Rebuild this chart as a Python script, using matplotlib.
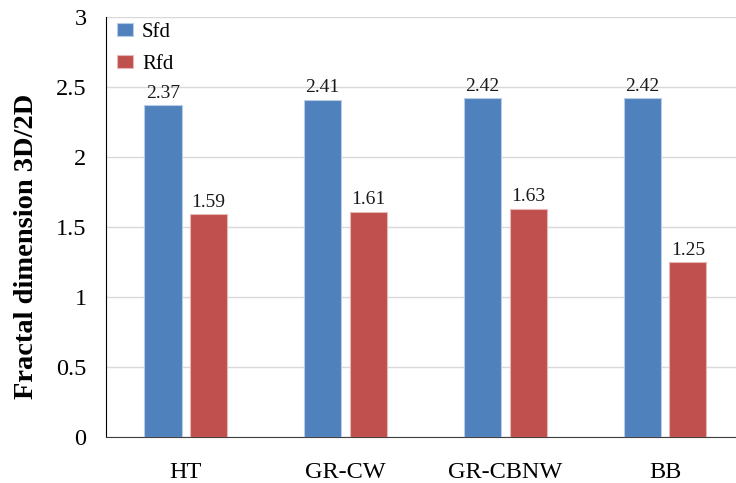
import numpy as np
import matplotlib
matplotlib.use("Agg")
import matplotlib.pyplot as plt

categories = ["HT", "GR-CW", "GR-CBNW", "BB"]
sfd = [2.37, 2.41, 2.42, 2.42]
rfd = [1.59, 1.61, 1.63, 1.25]

plt.rcParams['font.family'] = ['Liberation Serif', 'DejaVu Serif']

fig = plt.figure(figsize=(7.36, 4.83), dpi=100)
ax = fig.add_axes([0.144, 0.095, 0.868, 0.87])

x = np.arange(len(categories))
w = 0.232
off = 0.143
b1 = ax.bar(x - off, sfd, w, color='#4F81BD', edgecolor='#B8CCE4', linewidth=0.8, label='Sfd', zorder=3)
b2 = ax.bar(x + off, rfd, w, color='#C0504D', edgecolor='#E6B9B8', linewidth=0.8, label='Rfd', zorder=3)

for bars in (b1, b2):
    for b in bars:
        ax.text(b.get_x() + b.get_width() / 2, b.get_height() + 0.025, f"{b.get_height():.2f}",
                ha='center', va='bottom', fontsize=14, color='#1a1a1a')

ax.set_xlim(-0.5, 3.5)
ax.set_ylim(0, 3)
ax.set_yticks(np.arange(0, 3.01, 0.5))
ax.set_yticklabels(['0', '0.5', '1', '1.5', '2', '2.5', '3'])
ax.set_xticks(x)
ax.set_xticklabels(categories)
ax.tick_params(axis='both', length=0, labelsize=17.5)
ax.tick_params(axis='x', pad=18)
ax.tick_params(axis='y', pad=14)
ax.yaxis.grid(True, color='#D9D9D9', linewidth=1, zorder=0)
ax.set_axisbelow(True)
for s in ('top', 'right'):
    ax.spines[s].set_visible(False)
ax.spines['left'].set_color('black')
ax.spines['bottom'].set_color('#404040')
ax.set_ylabel('Fractal dimension 3D/2D', fontsize=20.5, fontweight='bold')
ax.yaxis.set_label_coords(-0.105, 0.455)

ax.legend(loc='upper left', bbox_to_anchor=(-0.012, 1.03), frameon=False, fontsize=15,
          handlelength=0.75, handleheight=0.55, labelspacing=0.62, handletextpad=0.45)

fig.savefig('out.png', dpi=100)
